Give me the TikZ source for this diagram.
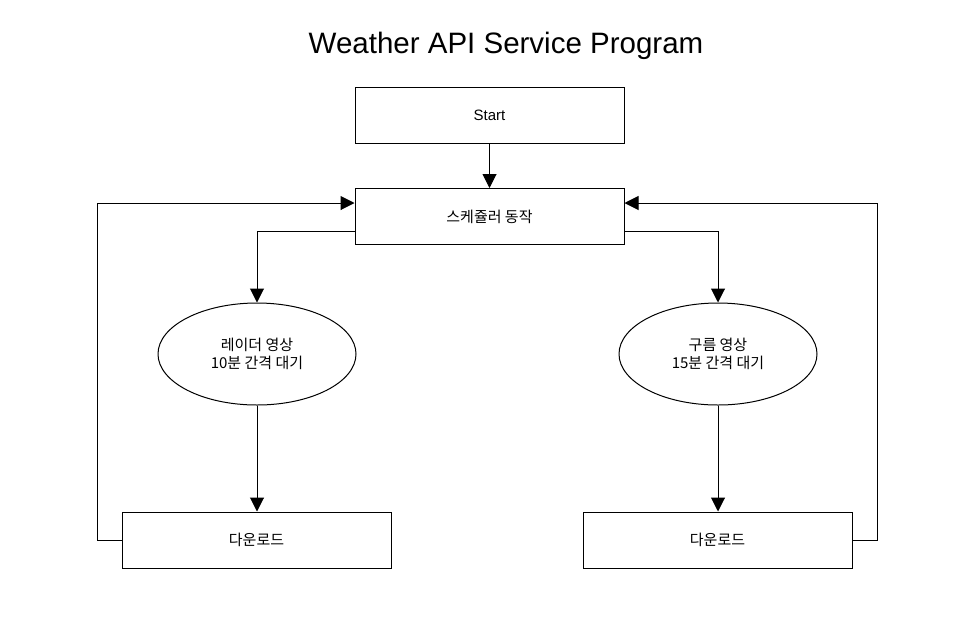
\documentclass[tikz,border=0pt]{standalone}
\usepackage{fontspec}
\setmainfont{Liberation Sans}
\newfontfamily\kr{Noto Sans CJK KR}
\usetikzlibrary{arrows.meta,shapes.geometric}
\begin{document}
\begin{tikzpicture}[x=1pt,y=-1pt,
  box/.style={draw,line width=1pt,minimum width=269pt,minimum height=56pt,inner sep=0pt,font=\fontsize{15}{18}\selectfont},
  krbox/.style={box,font=\kr\fontsize{15}{18}\selectfont},
  oval/.style={draw,ellipse,line width=1pt,minimum width=198pt,minimum height=102pt,inner sep=0pt,align=center,font=\kr\fontsize{15}{18}\selectfont},
  conn/.style={line width=1pt,-{Triangle[length=14pt,width=14pt]}},
  plain/.style={line width=1pt}]
\useasboundingbox[fill=white] (0,0) rectangle (968,619);
\node[font=\fontsize{29.5}{34}\selectfont] (title) at (506,46) {Weather API Service Program};
\node[box] (start) at (489.5,115) {Start};
\node[krbox] (sched) at (489.5,216.5) {스케쥴러 동작};
\node[oval] (lo) at (257,354) {레이더 영상\\10분 간격 대기};
\node[oval] (ro) at (718,354) {구름 영상\\15분 간격 대기};
\node[krbox] (dl) at (256.5,540) {다운로드};
\node[krbox] (dr) at (717.5,540) {다운로드};
\coordinate (lc) at (97,540);
\coordinate (rc) at (877,540);
\draw[conn] (start) -- (sched);
\draw[conn] ([yshift=-14.5pt]sched.west) -| (lo.north);
\draw[conn] ([yshift=-14.5pt]sched.east) -| (ro.north);
\draw[conn] (lo.south) -- (lo.south |- dl.north);
\draw[conn] (ro.south) -- (ro.south |- dr.north);
\draw[conn] (dl.west) -- (lc) |- ([yshift=13.5pt]sched.west);
\draw[conn] (dr.east) -- (rc) |- ([yshift=13.5pt]sched.east);
\end{tikzpicture}
\end{document}
